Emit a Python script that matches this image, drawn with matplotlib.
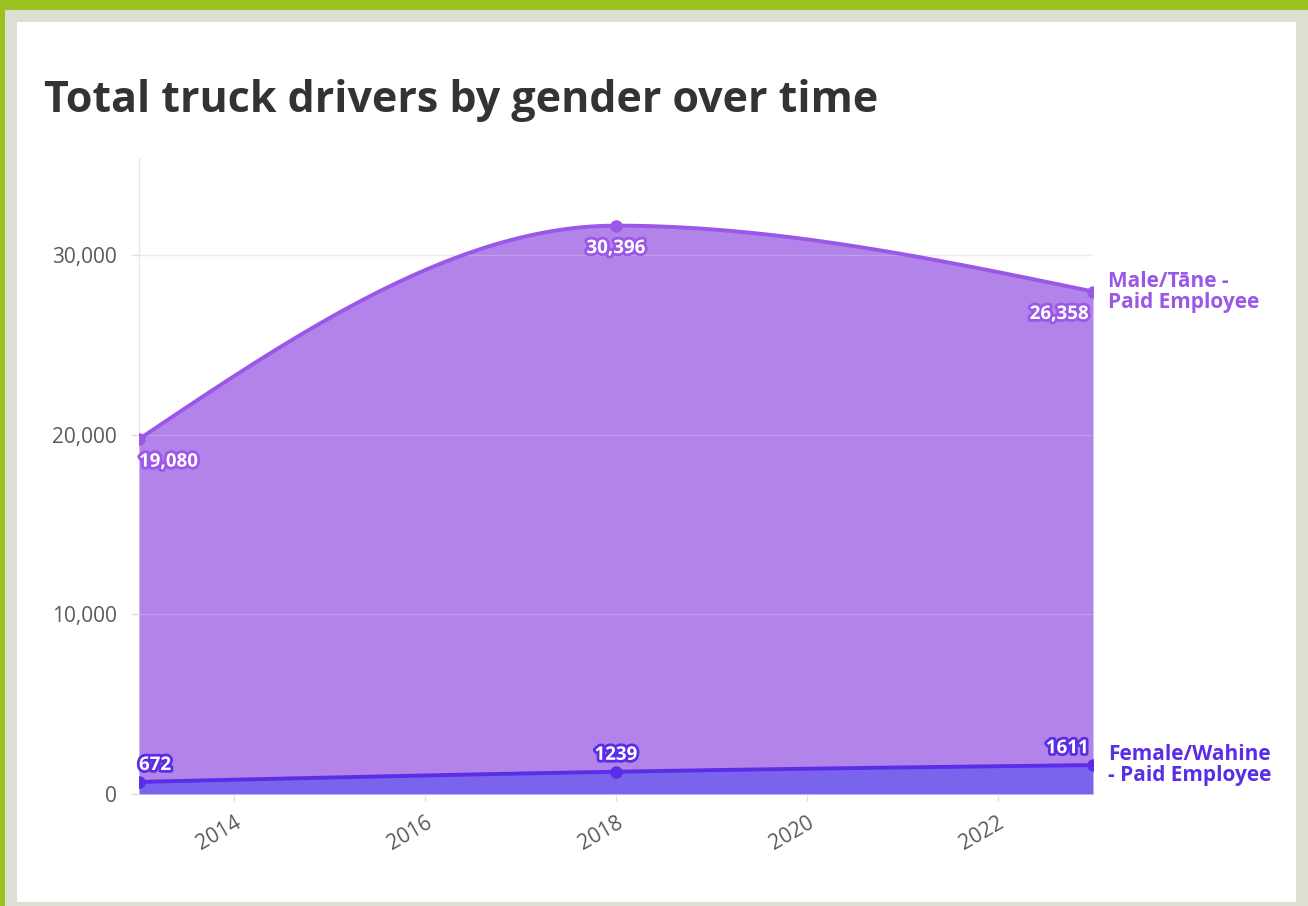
import numpy as np
import matplotlib.pyplot as plt
import matplotlib.patheffects as pe
from matplotlib.patches import Rectangle

plt.rcParams['font.family'] = ['Open Sans', 'DejaVu Sans']

years = [2013, 2018, 2023]
female = [672, 1239, 1611]
male = [19080, 30396, 26358]
female_lbl = ['672', '1239', '1611']
male_lbl = ['19,080', '30,396', '26,358']
y_ticks = [0, 10000, 20000, 30000]
x_ticks = [2014, 2016, 2018, 2020, 2022]

male_fill = '#b283e8'
male_line = '#9b57e8'
fem_fill = '#7a64ec'
fem_line = '#5a2de6'


# smooth line like d3 curveMonotoneX
def monotone(x, y, n=60):
    x = np.asarray(x, float)
    y = np.asarray(y, float)
    h = np.diff(x)
    s = np.diff(y) / h
    m = np.zeros(len(x))
    for i in range(1, len(x) - 1):
        if s[i - 1] * s[i] <= 0:
            m[i] = 0
        else:
            p = (s[i - 1] * h[i] + s[i] * h[i - 1]) / (h[i - 1] + h[i])
            m[i] = np.sign(s[i - 1]) * min(abs(s[i - 1]), abs(s[i]), 0.5 * abs(p)) * 2
    m[0] = (3 * s[0] - m[1]) / 2
    m[-1] = (3 * s[-1] - m[-2]) / 2
    xs, ys = [], []
    for i in range(len(x) - 1):
        t = np.linspace(0, 1, n)
        h00 = 2 * t**3 - 3 * t**2 + 1
        h10 = t**3 - 2 * t**2 + t
        h01 = -2 * t**3 + 3 * t**2
        h11 = t**3 - t**2
        xs.append(x[i] + t * h[i])
        ys.append(h00 * y[i] + h10 * h[i] * m[i] + h01 * y[i + 1] + h11 * h[i] * m[i + 1])
    return np.concatenate(xs), np.concatenate(ys)


total = [f + m for f, m in zip(female, male)]
fx, fy = monotone(years, female)
tx, ty = monotone(years, total)

fig = plt.figure(figsize=(13.08, 9.06), dpi=100)
fig.patch.set_facecolor('#9bc21f')
W, H = 1308, 906
fig.patches.append(Rectangle((5 / W, 0), 1, 1 - 10 / H, transform=fig.transFigure,
                             facecolor='#dcdfd2', edgecolor='none', zorder=-3))
fig.patches.append(Rectangle((17 / W, 4 / H), (1296 - 17) / W, (902 - 22) / H,
                             transform=fig.transFigure, facecolor='white',
                             edgecolor='none', zorder=-2))

ax = fig.add_axes([139 / W, 1 - 794 / H, (1093 - 139) / W, (794 - 158) / H])
ax.set_facecolor('none')
ax.set_xlim(2013, 2023)
ax.set_ylim(0, 35400)

ax.fill_between(fx, 0, fy, color=fem_fill, lw=0, zorder=1)
ax.fill_between(tx, np.interp(tx, fx, fy), ty, color=male_fill, lw=0, zorder=1)
for v in y_ticks[1:]:
    ax.axhline(v, color='#ececec', lw=1, alpha=0.25, zorder=1.5)
    ax.axhline(v, color='#ececec', lw=1, zorder=0.5)
ax.axvline(2013, color='#e6e6e6', lw=1, zorder=0.5)
ax.plot(tx, ty, color=male_line, lw=2.8, zorder=3, solid_capstyle='round')
ax.plot(fx, fy, color=fem_line, lw=2.8, zorder=3, solid_capstyle='round')
ax.plot(years, total, 'o', color=male_line, ms=8, zorder=4)
ax.plot(years, female, 'o', color=fem_line, ms=8, zorder=4)

aligns = ['left', 'center', 'right']
offs = [0, 0, -3]
for yr, t, lab, ha, o in zip(years, total, male_lbl, aligns, offs):
    ax.annotate(lab, (yr, t), xytext=(o, -9), textcoords='offset points',
                ha=ha, va='top', fontsize=13.5, fontweight='bold', color='white',
                path_effects=[pe.withStroke(linewidth=4, foreground=male_line)], zorder=5)
for yr, f, lab, ha, o in zip(years, female, female_lbl, aligns, offs):
    ax.annotate(lab, (yr, f), xytext=(o, 5), textcoords='offset points',
                ha=ha, va='bottom', fontsize=13.5, fontweight='bold', color='white',
                path_effects=[pe.withStroke(linewidth=4, foreground=fem_line)], zorder=5)

ax.annotate('Male/Tāne -\nPaid Employee', (years[-1], total[-1]), xytext=(11, 0),
            textcoords='offset points', ha='left', va='center', fontsize=15,
            fontweight='bold', color=male_line, linespacing=1.0, annotation_clip=False)
ax.annotate('Female/Wahine\n- Paid Employee', (years[-1], female[-1]), xytext=(11, 0),
            textcoords='offset points', ha='left', va='center', fontsize=15,
            fontweight='bold', color=fem_line, linespacing=1.0, annotation_clip=False)

for s in ax.spines.values():
    s.set_visible(False)
ax.set_yticks(y_ticks)
ax.set_yticklabels([f'{v:,}' for v in y_ticks])
ax.set_xticks(x_ticks)
ax.set_xticklabels([str(v) for v in x_ticks], rotation=30, ha='right',
                   rotation_mode='anchor')
ax.tick_params(axis='y', length=6, width=1, color='#e0e0e0', pad=10,
               labelsize=15, labelcolor='#5a5a5a')
ax.tick_params(axis='x', length=5, width=1, color='#e0e0e0', pad=8,
               labelsize=15, labelcolor='#5a5a5a')

fig.text(44 / W, 1 - 100 / H, 'Total truck drivers by gender over time',
         fontsize=31, fontweight='bold', color='#333333', va='center', ha='left')

fig.savefig('out.png', dpi=100)
